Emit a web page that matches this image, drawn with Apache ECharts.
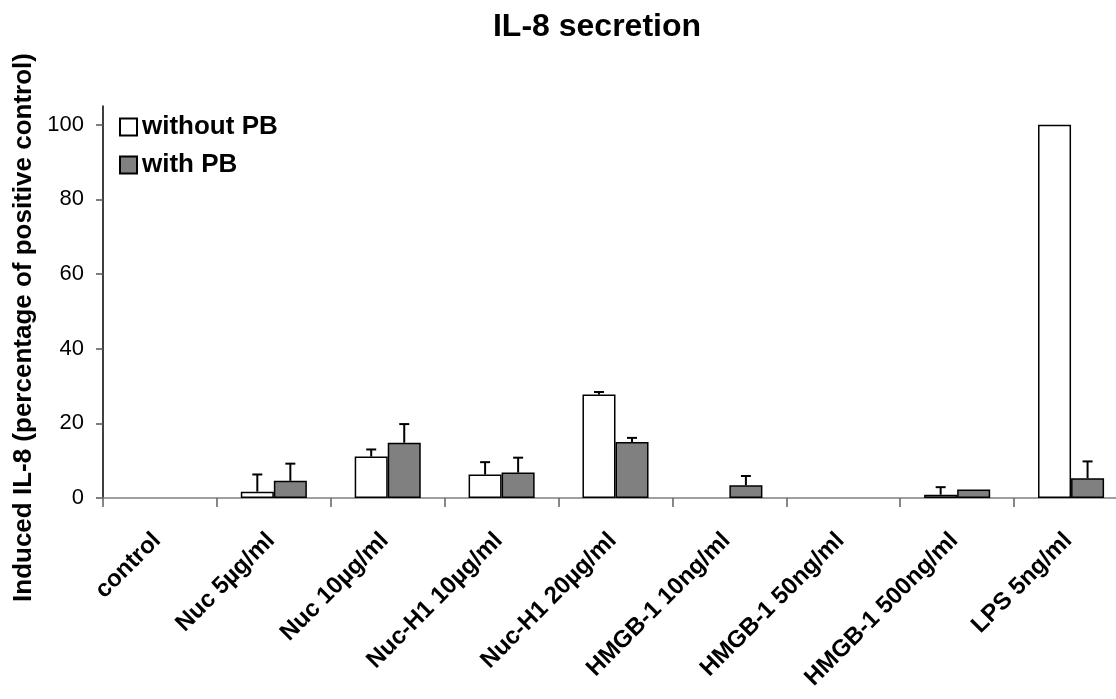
<!DOCTYPE html>
<html>
<head>
<meta charset="utf-8">
<script src="https://cdn.jsdelivr.net/npm/echarts@6/dist/echarts.min.js"></script>
<style>
html,body{margin:0;padding:0;background:#fff;}
#chart{width:1116px;height:699px;}
</style>
</head>
<body>
<div id="chart"></div>
<script>
var categories = ['control','Nuc 5µg/ml','Nuc 10µg/ml','Nuc-H1 10µg/ml','Nuc-H1 20µg/ml','HMGB-1 10ng/ml','HMGB-1 50ng/ml','HMGB-1 500ng/ml','LPS 5ng/ml'];
var withoutPB = [0, 1.7, 11.1, 6.3, 27.7, 0, 0, 0.9, 100];
var withoutPBErr = [0, 4.6, 1.9, 3.3, 0.7, 0, 0, 2.0, 0];
var withPB = [0, 4.6, 14.8, 6.8, 15.0, 3.4, 0, 2.3, 5.3];
var withPBErr = [0, 4.6, 5.0, 4.0, 1.1, 2.5, 0, 0, 4.5];
var yTicks = [0, 20, 40, 60, 80, 100];

var FONT = 'Liberation Sans, Arial, sans-serif';
var BAR_FRAC = 0.29;

function barData(vals){ return vals.map(function(v){ return v === 0 ? '-' : v; }); }
function errData(vals, errs){
  var out = [];
  for (var i = 0; i < vals.length; i++) {
    if (errs[i] > 0) out.push([i, vals[i], errs[i]]);
  }
  return out;
}
function errSeries(vals, errs, sign){
  return {
    type: 'custom',
    silent: true,
    z: 5,
    data: errData(vals, errs),
    encode: {x: 0, y: 1},
    renderItem: function(params, api){
      var idx = api.value(0), v = api.value(1), e = api.value(2);
      var band = api.size([1, 0])[0];
      var dx = sign * band * BAR_FRAC / 2;
      var p0 = api.coord([idx, v]);
      var p1 = api.coord([idx, v + e]);
      var x = p0[0] + dx;
      var half = 5;
      var st = {stroke: '#000', lineWidth: 2};
      return {type: 'group', children: [
        {type: 'line', shape: {x1: x, y1: p0[1], x2: x, y2: p1[1]}, style: st},
        {type: 'line', shape: {x1: x - half, y1: p1[1], x2: x + half, y2: p1[1]}, style: st}
      ]};
    }
  };
}

var chart = echarts.init(document.getElementById('chart'));
chart.setOption({
  animation: false,
  backgroundColor: '#fff',
  title: {
    text: 'IL-8 secretion',
    left: 597, top: 11, textAlign: 'center', padding: 0,
    textStyle: {fontFamily: FONT, fontSize: 32, fontWeight: 'bold', color: '#000'}
  },
  legend: {
    orient: 'vertical', left: 119, top: 114, itemGap: 12, padding: 0,
    itemWidth: 17, itemHeight: 17, icon: 'rect',
    textStyle: {fontFamily: FONT, fontSize: 26, fontWeight: 'bold', color: '#000'},
    data: ['without PB', 'with PB']
  },
  grid: {left: 103, top: 106, width: 1025, height: 392, containLabel: false, outerBoundsMode: 'none'},
  xAxis: {
    type: 'category', data: categories,
    axisLine: {lineStyle: {color: '#808080', width: 1.5}},
    axisTick: {show: true, alignWithLabel: false, length: 9, lineStyle: {color: '#606060', width: 1.5}},
    axisLabel: {rotate: 45, interval: 0, margin: 36, padding: [0, 4, 0, 0], fontFamily: FONT, fontSize: 24, fontWeight: 'bold', color: '#000'}
  },
  yAxis: {
    type: 'value', min: 0, max: 105, interval: 20,
    name: 'Induced IL-8 (percentage of positive control)',
    nameLocation: 'middle', nameGap: 61,
    nameTextStyle: {fontFamily: FONT, fontSize: 26, fontWeight: 'bold', color: '#000', padding: [0, 51, 0, 0]},
    axisLine: {show: true, lineStyle: {color: '#000', width: 1.5}},
    axisTick: {show: true, length: 7, customValues: yTicks, lineStyle: {color: '#555', width: 1.5}},
    axisLabel: {customValues: yTicks, margin: 19, fontFamily: FONT, fontSize: 22, color: '#000'},
    splitLine: {show: false}
  },
  series: [
    {name: 'without PB', type: 'bar', barWidth: (BAR_FRAC*100) + '%', barGap: '0%',
     data: barData(withoutPB),
     itemStyle: {color: '#ffffff', borderColor: '#000', borderWidth: 1.5}},
    {name: 'with PB', type: 'bar', barWidth: (BAR_FRAC*100) + '%', barGap: '0%',
     data: barData(withPB),
     itemStyle: {color: '#808080', borderColor: '#000', borderWidth: 1.5}},
    errSeries(withoutPB, withoutPBErr, -1),
    errSeries(withPB, withPBErr, 1)
  ]
});
</script>
</body>
</html>
